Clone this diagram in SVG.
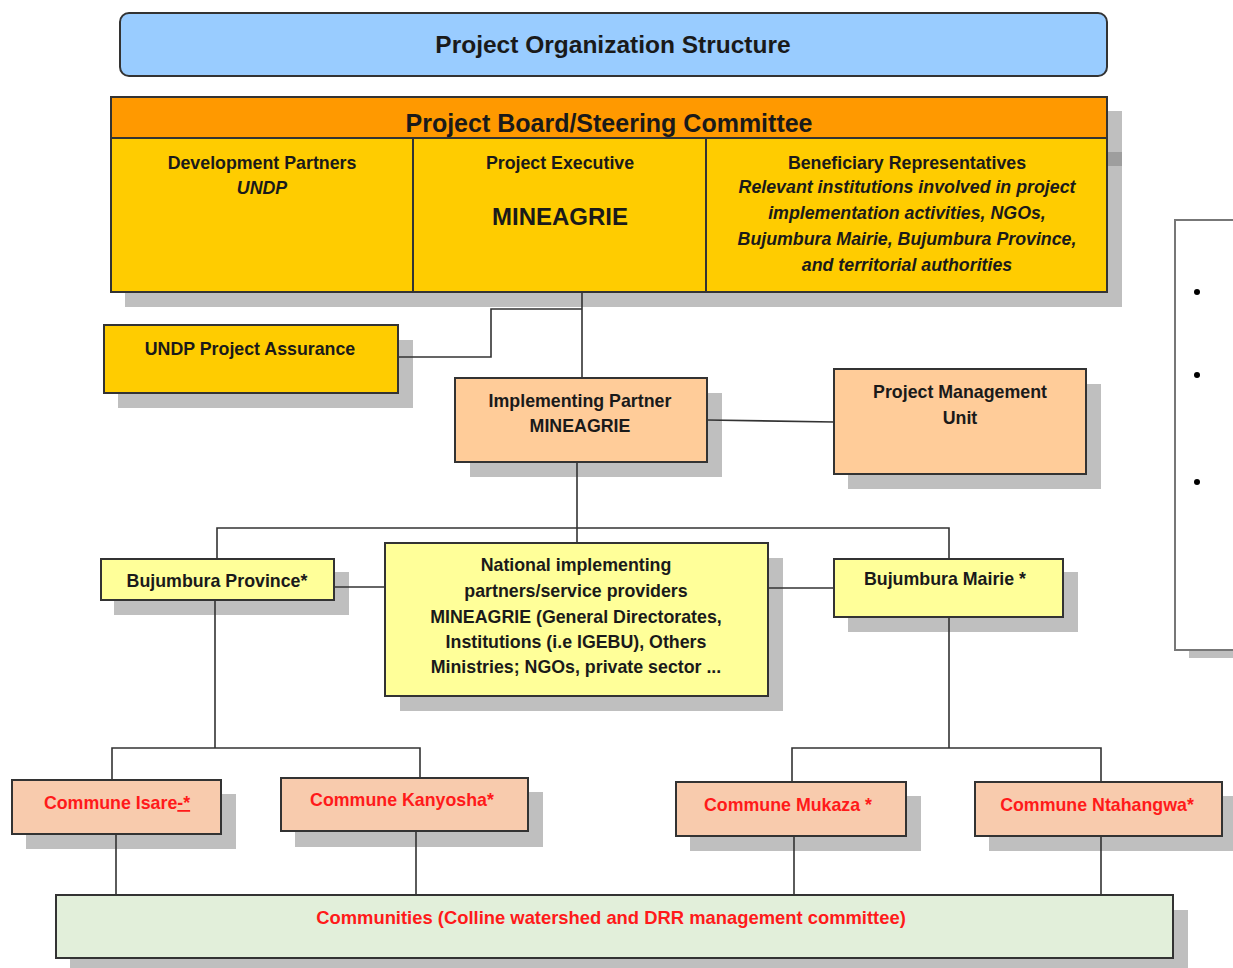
<svg xmlns="http://www.w3.org/2000/svg" width="1233" height="968" viewBox="0 0 1233 968">
  <style>
    .box { stroke: #333; stroke-width: 2; }
    .shadow { fill: #BFBFBF; }
    .wire { stroke: #333; stroke-width: 1.6; fill: none; }
    text { font-family: "Liberation Sans", Arial, sans-serif; font-weight: bold; fill: #1a1a1a; text-anchor: middle; }
    .t16 { font-size: 17.8px; }
    .it { font-style: italic; }
    .red { fill: #FF1A1A; }
  </style>

  <!-- drop shadows behind the boxes -->
  <g id="shadows">
    <rect class="shadow" x="125" y="111" width="997" height="196"/>
    <rect x="1107" y="152" width="15" height="14" fill="#9E9E9E"/>
    <rect class="shadow" x="118" y="340" width="295" height="68"/>
    <rect class="shadow" x="470" y="393" width="252" height="84"/>
    <rect class="shadow" x="848" y="384" width="253" height="105"/>
    <rect class="shadow" x="114" y="572" width="235" height="43"/>
    <rect class="shadow" x="400" y="558" width="383" height="153"/>
    <rect class="shadow" x="848" y="572" width="230" height="60"/>
    <rect class="shadow" x="26" y="794" width="210" height="55"/>
    <rect class="shadow" x="295" y="792" width="248" height="55"/>
    <rect class="shadow" x="690" y="796" width="231" height="55"/>
    <rect class="shadow" x="989" y="796" width="244" height="55"/>
    <rect class="shadow" x="70" y="910" width="1118" height="58"/>
    <rect class="shadow" x="1189" y="650" width="44" height="8"/>
  </g>

  <!-- connectors -->
  <g id="connectors">
    <path class="wire" d="M582 292 V378"/>
    <path class="wire" d="M582 309 H491 V357 H398"/>
    <path class="wire" d="M707 420 L834 422"/>
    <path class="wire" d="M577 462 V543"/>
    <path class="wire" d="M217 559 V528 H949 V559"/>
    <path class="wire" d="M334 587 H385"/>
    <path class="wire" d="M768 588 H834"/>
    <path class="wire" d="M215 600 V748"/>
    <path class="wire" d="M112 780 V748 H420 V778"/>
    <path class="wire" d="M949 617 V748"/>
    <path class="wire" d="M792 782 V748 H1101 V782"/>
    <path class="wire" d="M116 834 V895"/>
    <path class="wire" d="M416 831 V895"/>
    <path class="wire" d="M794 836 V895"/>
    <path class="wire" d="M1101 836 V895"/>
  </g>

  <g id="title">
    <rect class="box" x="120" y="13" width="987" height="63" rx="9" fill="#99CCFF"/>
    <text x="613" y="53" font-size="24.5">Project Organization Structure</text>
  </g>

  <g id="board">
    <rect class="box" x="111" y="97" width="996" height="195" fill="#FFCC00"/>
    <rect class="box" x="111" y="97" width="996" height="41" fill="#FF9900"/>
    <text x="609" y="132" font-size="25">Project Board/Steering Committee</text>
    <line class="box" x1="413" y1="138" x2="413" y2="292"/>
    <line class="box" x1="706" y1="138" x2="706" y2="292"/>
  </g>

  <g id="development-partners">
    <text class="t16" x="262" y="169">Development Partners</text>
    <text class="t16 it" x="262" y="194">UNDP</text>
  </g>

  <g id="project-executive">
    <text class="t16" x="560" y="169">Project Executive</text>
    <text x="560" y="225" font-size="24">MINEAGRIE</text>
  </g>

  <g id="beneficiary-representatives">
    <text class="t16" x="907" y="169">Beneficiary Representatives</text>
    <text class="it" x="907" y="193" font-size="17.8">Relevant institutions involved in project</text>
    <text class="it" x="907" y="219" font-size="17.8">implementation activities, NGOs,</text>
    <text class="it" x="907" y="245" font-size="17.8">Bujumbura Mairie, Bujumbura Province,</text>
    <text class="it" x="907" y="271" font-size="17.8">and territorial authorities</text>
  </g>

  <g id="undp-assurance">
    <rect class="box" x="104" y="325" width="294" height="68" fill="#FFCC00"/>
    <text class="t16" x="250" y="355">UNDP Project Assurance</text>
  </g>

  <g id="implementing-partner">
    <rect class="box" x="455" y="378" width="252" height="84" fill="#FFCC99"/>
    <text class="t16" x="580" y="407">Implementing Partner</text>
    <text class="t16" x="580" y="432">MINEAGRIE</text>
  </g>

  <g id="pmu">
    <rect class="box" x="834" y="369" width="252" height="105" fill="#FFCC99"/>
    <text class="t16" x="960" y="398">Project Management</text>
    <text class="t16" x="960" y="424">Unit</text>
  </g>

  <g id="bujumbura-province">
    <rect class="box" x="101" y="559" width="233" height="41" fill="#FFFF99"/>
    <text class="t16" x="217" y="587">Bujumbura Province*</text>
  </g>

  <g id="national-partners">
    <rect class="box" x="385" y="543" width="383" height="153" fill="#FFFF99"/>
    <text class="t16" x="576" y="571">National implementing</text>
    <text class="t16" x="576" y="597">partners/service providers</text>
    <text class="t16" x="576" y="623">MINEAGRIE (General Directorates,</text>
    <text class="t16" x="576" y="648">Institutions  (i.e IGEBU), Others</text>
    <text class="t16" x="576" y="673">Ministries; NGOs,  private sector ...</text>
  </g>

  <g id="bujumbura-mairie">
    <rect class="box" x="834" y="559" width="229" height="58" fill="#FFFF99"/>
    <text class="t16" x="945" y="585">Bujumbura Mairie *</text>
  </g>

  <g id="commune-isare">
    <rect class="box" x="12" y="780" width="209" height="54" fill="#F8CBAD"/>
    <text class="t16 red" x="117" y="809">Commune Isare<tspan text-decoration="underline">-*</tspan></text>
  </g>

  <g id="commune-kanyosha">
    <rect class="box" x="281" y="778" width="247" height="53" fill="#F8CBAD"/>
    <text class="t16 red" x="402" y="806">Commune Kanyosha*</text>
  </g>

  <g id="commune-mukaza">
    <rect class="box" x="676" y="782" width="230" height="54" fill="#F8CBAD"/>
    <text class="t16 red" x="788" y="811">Commune Mukaza *</text>
  </g>

  <g id="commune-ntahangwa">
    <rect class="box" x="975" y="782" width="247" height="54" fill="#F8CBAD"/>
    <text class="t16 red" x="1097" y="811">Commune Ntahangwa*</text>
  </g>

  <g id="communities">
    <rect class="box" x="56" y="895" width="1117" height="63" fill="#E2EFDA"/>
    <text class="red" x="611" y="924" font-size="18.4">Communities (Colline watershed and DRR management committee)</text>
  </g>

  <g id="side-panel">
    <rect x="1175" y="220" width="70" height="430" fill="#FFFFFF" stroke="#777" stroke-width="2"/>
    <circle cx="1197" cy="292" r="3" fill="#000"/>
    <circle cx="1197" cy="375" r="3" fill="#000"/>
    <circle cx="1197" cy="482" r="3" fill="#000"/>
  </g>
</svg>
